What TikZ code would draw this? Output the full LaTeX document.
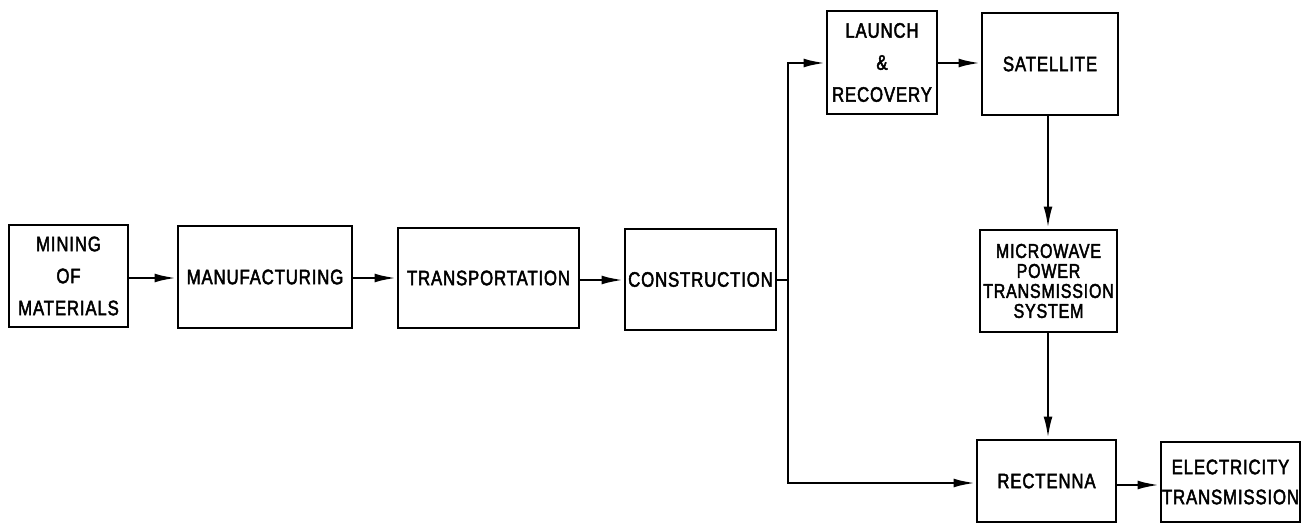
\documentclass[tikz,border=0pt]{standalone}
\usepackage{fontspec}
\setmainfont[FakeStretch=0.80,FakeBold=2.2,LetterSpace=4]{Liberation Sans}
\usetikzlibrary{arrows.meta}
\tikzset{
  blk/.style={draw, line width=1.4pt, inner sep=0pt, align=center, font=\fontsize{10.5}{16}\selectfont},
  conn/.style={line width=1.3pt},
  arr/.style={conn, -{Latex[length=11pt,width=4.4pt]}}
}
\begin{document}
\begin{tikzpicture}[x=0.5pt,y=-0.5pt]
\useasboundingbox (0,0) rectangle (1301,524);
\node[blk, minimum width=59.5pt, minimum height=51pt] (mining) at (68.5,276) {MINING\\OF\\MATERIALS};
\node[blk, minimum width=87pt, minimum height=51pt] (manuf) at (265,277) {MANUFACTURING};
\node[blk, minimum width=90.5pt, minimum height=50pt] (transp) at (488.5,278) {TRANSPORTATION};
\node[blk, minimum width=75.5pt, minimum height=50.5pt] (constr) at (700.5,279.5) {CONSTRUCTION};
\node[blk, minimum width=55pt, minimum height=51.5pt] (launch) at (882,62.5) {LAUNCH\\\&\\RECOVERY};
\node[blk, minimum width=68pt, minimum height=51pt] (sat) at (1050,64) {SATELLITE};
\node[blk, minimum width=68.5pt, minimum height=51pt, font=\fontsize{10}{10}\selectfont] (mw) at (1048.5,281) {MICROWAVE\\POWER\\TRANSMISSION\\SYSTEM};
\node[blk, minimum width=69.5pt, minimum height=41pt] (rect) at (1046.5,481) {RECTENNA};
\node[blk, minimum width=69.5pt, minimum height=40pt, font=\fontsize{10.5}{15}\selectfont] (elec) at (1230.5,482) {ELECTRICITY\\TRANSMISSION};
\coordinate (split) at (788,280);
\draw[arr] (mining.east |- 0,278) -- (manuf.west |- 0,278);
\draw[arr] (manuf.east |- 0,278) -- (transp.west |- 0,278);
\draw[arr] (transp.east |- 0,280) -- (constr.west |- 0,280);
\draw[conn] (constr.east |- split) -- (split);
\draw[arr] (split) |- (launch.west |- 0,63);
\draw[arr] (split) |- (rect.west |- 0,483);
\draw[arr] (launch.east |- 0,63) -- (sat.west |- 0,63);
\draw[arr] (sat.south -| 1048,0) -- (mw.north -| 1048,0);
\draw[arr] (mw.south -| 1048,0) -- (rect.north -| 1048,0);
\draw[arr] (rect.east |- 0,485) -- (elec.west |- 0,485);
\end{tikzpicture}
\end{document}
